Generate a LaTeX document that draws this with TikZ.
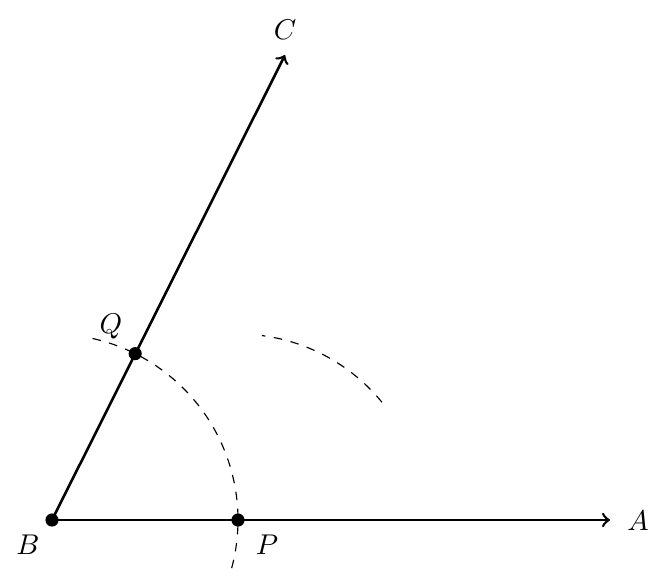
\documentclass[tikz,border=0pt]{standalone}
\usetikzlibrary{calc}
\begin{document}
\begin{tikzpicture}[x=0.35pt,y=0.35pt,
  ray/.style={line width=0.9pt,->},
  construct/.style={dashed,thin},
  dot/.style={circle,fill=black,inner sep=0pt,minimum size=4.6pt},
  lbl/.style={inner sep=0pt}]
\useasboundingbox (0,0) rectangle (671,580);
\coordinate (B) at (52,60);
\coordinate (Aend) at (610,60);
\coordinate (Cend) at (285,525);
\coordinate (P) at ($(B)+(186,0)$);
\coordinate (Q) at ($(B)+(63.43:186)$);
\draw[ray] (B) -- (Aend);
\draw[ray] (B) -- (Cend);
\draw[construct] ($(B)+(-15:186)$) arc[start angle=-15,end angle=78,radius=186];
\draw[construct] ($(P)+(39.3:186)$) arc[start angle=39.3,end angle=82.6,radius=186];
\node[dot] (dB) at (B) {};
\node[dot] (dP) at (P) {};
\node[dot] (dQ) at (Q) {};
\node[lbl] (lA) at (638,59) {$A$};
\node[lbl] (lC) at (285,550) {$C$};
\node[lbl] (lB) at (28,35) {$B$};
\node[lbl] (lP) at (267,35) {$P$};
\node[lbl] (lQ) at (111,253) {$Q$};
\end{tikzpicture}
\end{document}
